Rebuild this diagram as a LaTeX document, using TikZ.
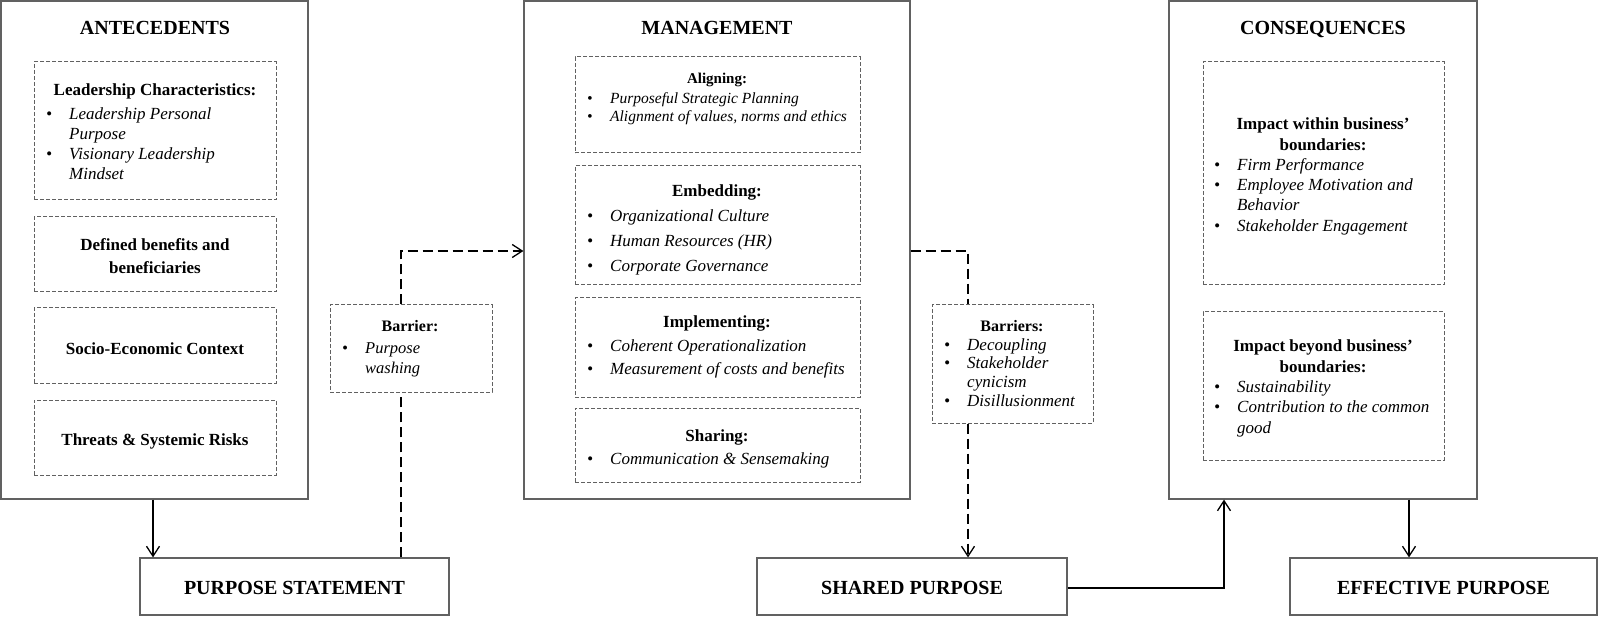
\documentclass[tikz,border=0pt]{standalone}
\usepackage{fontspec}
\setmainfont{Liberation Serif}
\usetikzlibrary{arrows.meta,fit}

% bullet item and continuation line for the lists
\newcommand{\bul}{\strut\makebox[23pt][l]{\textbullet}}
\newcommand{\cnt}{\strut\hspace*{23pt}}
% fonts
\newcommand{\ftitle}{\fontsize{20}{24}\selectfont\bfseries}
\newcommand{\fbold}{\fontsize{17}{20}\selectfont\bfseries}

\tikzset{
  outer/.style={draw=black!62, line width=1.2pt, inner sep=0pt},
  inner/.style={draw=black!62, line width=1pt, dash pattern=on 4pt off 2pt, inner sep=0pt},
  txt/.style={inner sep=0pt, anchor=base},
  hd/.style={inner sep=0pt, anchor=north, align=center},
  lst/.style={inner sep=0pt, anchor=north west, align=left},
  ln/.style={line width=1.4pt},
  dln/.style={line width=1.4pt, dash pattern=on 10pt off 5pt},
  arr/.style={ln, -{Straight Barb[length=10pt,width=13pt,line width=1.3pt]}},
  darr/.style={dln, -{Straight Barb[length=10pt,width=13pt,line width=1.3pt]}},
}

\begin{document}
\begin{tikzpicture}[x=1pt,y=-1pt]
\fill[white] (0,0) rectangle (1600,617);
\useasboundingbox (0,0) rectangle (1600,617);

% ---------------- antecedents ----------------
\node[outer, fit={(1,1) (308,499)}] (ant) {};
\node[txt, font=\ftitle] (antt) at (155,35) {ANTECEDENTS};

\node[inner, fit={(34,62) (276,200)}] (a1) {};
\node[txt, font=\fbold] (a1h) at (155,96) {Leadership Characteristics:};
\node[lst, font={\fontsize{17}{20}\selectfont\itshape}] (a1l) at (46,105)
  {\bul Leadership Personal\\ \cnt Purpose\\ \bul Visionary Leadership\\ \cnt Mindset};

\node[inner, fit={(34,217) (276,292)}] (a2) {};
\node[hd, font={\fontsize{17}{23}\selectfont\bfseries}] (a2h) at (155,234)
  {\strut Defined benefits and\\ \strut beneficiaries};

\node[inner, fit={(34,308) (276,383)}] (a3) {};
\node[txt, font=\fbold] (a3h) at (155,354) {Socio-Economic Context};

\node[inner, fit={(34,400) (276,475)}] (a4) {};
\node[txt, font=\fbold] (a4h) at (155,445) {Threats \& Systemic Risks};

% ---------------- management ----------------
\node[outer, fit={(524,1) (910,499)}] (mgmt) {};
\node[txt, font=\ftitle] (mgmtt) at (717,35) {MANAGEMENT};

\node[inner, fit={(575,57) (860,153)}] (m1) {};
\node[txt, font={\fontsize{15}{18}\selectfont\bfseries}] (m1h) at (717,84) {Aligning:};
\node[lst, font={\fontsize{15.5}{18}\selectfont\itshape}] (m1l) at (587,90.4)
  {\bul Purposeful Strategic Planning\\ \bul Alignment of values, norms and ethics};

\node[inner, fit={(575,166) (860,285)}] (m2) {};
\node[txt, font=\fbold] (m2h) at (717,197) {Embedding:};
\node[lst, font={\fontsize{17}{25}\selectfont\itshape}] (m2l) at (587,203.5)
  {\bul Organizational Culture\\ \bul Human Resources (HR)\\ \bul Corporate Governance};

\node[inner, fit={(575,298) (860,397)}] (m3) {};
\node[txt, font=\fbold] (m3h) at (717,328) {Implementing:};
\node[lst, font={\fontsize{17}{23}\selectfont\itshape}] (m3l) at (587,334.9)
  {\bul Coherent Operationalization\\ \bul Measurement of costs and benefits};

\node[inner, fit={(575,408) (860,482)}] (m4) {};
\node[txt, font=\fbold] (m4h) at (717,441) {Sharing:};
\node[lst, font={\fontsize{17}{20}\selectfont\itshape}] (m4l) at (587,450)
  {\bul Communication \& Sensemaking};

% ---------------- consequences ----------------
\node[outer, fit={(1169,1) (1477,499)}] (cons) {};
\node[txt, font=\ftitle] (const) at (1323,35) {CONSEQUENCES};

\node[inner, fit={(1203,62) (1444,285)}] (c1) {};
\node[hd, font={\fontsize{17}{21}\selectfont\bfseries}] (c1h) at (1323,114.3)
  {\strut Impact within business'\\ \strut boundaries:};
\node[lst, font={\fontsize{17}{20.3}\selectfont\itshape}] (c1l) at (1214,155.8)
  {\bul Firm Performance\\ \bul Employee Motivation and\\ \cnt Behavior\\ \bul Stakeholder Engagement};

\node[inner, fit={(1203,312) (1444,460)}] (c2) {};
\node[hd, font={\fontsize{17}{21}\selectfont\bfseries}] (c2h) at (1323,336.3)
  {\strut Impact beyond business'\\ \strut boundaries:};
\node[lst, font={\fontsize{17}{20.5}\selectfont\itshape}] (c2l) at (1214,377.6)
  {\bul Sustainability\\ \bul Contribution to the common\\ \cnt good};

% ---------------- barriers ----------------
\node[inner, fit={(330,305) (492,392)}] (bar) {};
\node[txt, font={\fontsize{16}{20}\selectfont\bfseries}] (barh) at (410,332) {Barrier:};
\node[lst, font={\fontsize{16.5}{20}\selectfont\itshape}] (barl) at (342,339)
  {\bul Purpose\\ \cnt washing};

\node[inner, fit={(932,305) (1093,423)}] (bars) {};
\node[txt, font={\fontsize{16}{20}\selectfont\bfseries}] (barsh) at (1012,332) {Barriers:};
\node[lst, font={\fontsize{17}{18.7}\selectfont\itshape}] (barsl) at (944,336.9)
  {\bul Decoupling\\ \bul Stakeholder\\ \cnt cynicism\\ \bul Disillusionment};

% ---------------- outcome boxes ----------------
\node[outer, fit={(140,558) (449,615)}] (ps) {};
\node[txt, font=\ftitle] (pst) at (294.5,594) {PURPOSE STATEMENT};
\node[outer, fit={(757,558) (1067,615)}] (sp) {};
\node[txt, font=\ftitle] (spt) at (912,594) {SHARED PURPOSE};
\node[outer, fit={(1290,558) (1597,615)}] (ep) {};
\node[txt, font=\ftitle] (ept) at (1443.5,594) {EFFECTIVE PURPOSE};

% ---------------- connectors ----------------
\coordinate (k1) at (153,0);
\draw[arr] (ant.south -| k1) -- (ps.north -| k1);

\coordinate (k2) at (401,251);
\draw[dln] (ps.north -| k2) -- (bar.south -| k2);
\draw[darr] (bar.north -| k2) -- (k2) -- (mgmt.west |- k2);

\coordinate (k3) at (968,251);
\draw[dln] (mgmt.east |- k3) -- (k3) -- (bars.north -| k3);
\draw[darr] (bars.south -| k3) -- (sp.north -| k3);

\coordinate (k4) at (1224,588);
\draw[arr] (sp.east |- k4) -- (k4) -- (cons.south -| k4);

\coordinate (k5) at (1409,0);
\draw[arr] (cons.south -| k5) -- (ep.north -| k5);
\end{tikzpicture}
\end{document}
